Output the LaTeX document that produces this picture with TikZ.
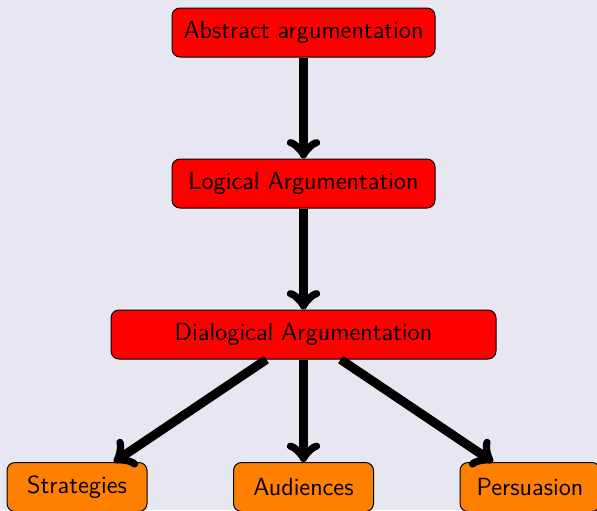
\documentclass[tikz,border=0pt]{standalone}
\usetikzlibrary{arrows}
\definecolor{bgcol}{RGB}{231,231,241}
\begin{document}
\begin{tikzpicture}[x=0.5pt,y=-0.5pt,
  box/.style={draw=black, line width=0.5pt, rounded corners=4pt, font=\sffamily\fontsize{12.4}{14}\selectfont, text=black, minimum height=24.5pt, inner sep=0pt},
  redbox/.style={box, fill=red},
  orangebox/.style={box, fill=orange, minimum width=70pt},
  arr/.style={-to, line width=4.5pt, black}]
\fill[bgcol] (0,0) rectangle (597,510);
\useasboundingbox (0,0) rectangle (597,510);
\node[redbox, minimum width=131.5pt] (abs) at (303.5,32.5) {Abstract argumentation};
\node[redbox, minimum width=131.5pt] (log) at (303.5,183.5) {Logical Argumentation};
\node[redbox, minimum width=192.5pt] (dia) at (303.5,334.5) {Dialogical Argumentation};
\node[orangebox] (str) at (77,487) {Strategies};
\node[orangebox] (aud) at (303.5,487) {Audiences};
\node[orangebox] (per) at (530,487) {Persuasion};
\draw[arr] (abs) -- (log);
\draw[arr] (log) -- (dia);
\draw[arr] (dia) -- (str);
\draw[arr] (dia) -- (aud);
\draw[arr] (dia) -- (per);
\end{tikzpicture}
\end{document}
